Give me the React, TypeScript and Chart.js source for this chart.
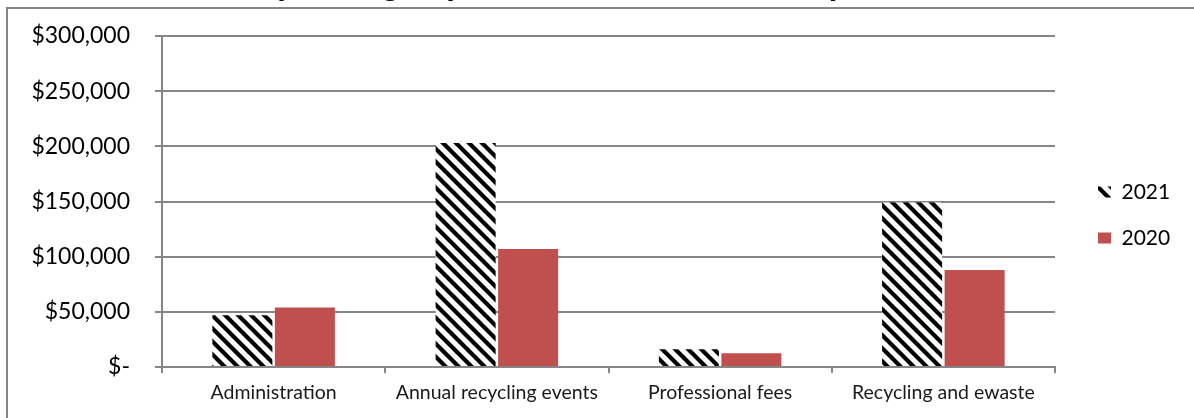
import React, { useEffect, useRef } from 'react';
import { Chart, registerables } from 'chart.js';

Chart.register(...registerables);

const TITLE = 'Operating Expenses 2021 vs 2020 Comparison';
const categories = ['Administration', 'Annual recycling events', 'Professional fees', 'Recycling and ewaste'];
const seriesLabels = ['2021', '2020'];
const values2021 = [47000, 203000, 16000, 149000];
const values2020 = [54000, 107000, 12500, 88000];
const yTickValues = [0, 50000, 100000, 150000, 200000, 250000, 300000];

const GRID = '#868686';
const RED = '#C0504D';
const TOP_OFFSET = 40;

function makeHatch(target: CanvasRenderingContext2D) {
  const size = 13;
  const c = document.createElement('canvas');
  c.width = size;
  c.height = size;
  const g = c.getContext('2d')!;
  g.fillStyle = '#ffffff';
  g.fillRect(0, 0, size, size);
  g.strokeStyle = '#000000';
  g.lineWidth = 4.2;
  g.beginPath();
  for (const o of [-size, 0, size]) {
    g.moveTo(o - 2, -2);
    g.lineTo(o + size + 2, size + 2);
  }
  g.stroke();
  return target.createPattern(c, 'repeat');
}

export default function App() {
  const ref = useRef<HTMLCanvasElement>(null);

  useEffect(() => {
    const canvas = ref.current!;
    const ctx = canvas.getContext('2d')!;
    const hatch = makeHatch(ctx);

    const layoutPlugin = {
      id: 'layoutFix',
      beforeInit(chart: any) {
        const lg = chart.legend;
        if (lg) {
          const orig = lg.fit.bind(lg);
          lg.fit = function () {
            orig();
            this.width = 139;
          };
        }
      },
      afterLayout(chart: any) {
        const lg = chart.legend;
        if (!lg) return;
        const dx = 1098 - 25 - lg.left;
        lg.left += dx;
        lg.right += dx;
        const dy = 181.5 + TOP_OFFSET - 25 - lg.top;
        lg.top += dy;
        lg.bottom += dy;
      },
      beforeDraw(chart: any) {
        const c = chart.ctx;
        c.save();
        c.strokeStyle = GRID;
        c.lineWidth = 2;
        c.beginPath();
        c.moveTo(7, 2000);
        c.lineTo(7, 8 + TOP_OFFSET);
        c.lineTo(2000, 8 + TOP_OFFSET);
        c.stroke();
        c.restore();
      },
    };

    const chart = new Chart(canvas, {
      type: 'bar',
      data: {
        labels: categories,
        datasets: [
          {
            label: seriesLabels[0],
            data: values2021,
            backgroundColor: hatch as any,
            borderWidth: 0,
            categoryPercentage: 0.56,
            barPercentage: 0.96,
          },
          {
            label: seriesLabels[1],
            data: values2020,
            backgroundColor: RED,
            borderWidth: 0,
            categoryPercentage: 0.56,
            barPercentage: 0.96,
          },
        ],
      },
      options: {
        responsive: false,
        animation: false,
        devicePixelRatio: 1,
        layout: { padding: 0 },
        plugins: {
          title: {
            display: true,
            text: TITLE,
            color: '#000',
            font: { family: '"Liberation Sans", Arial, sans-serif', size: 31, weight: 'bold' },
            padding: { top: 6.7, bottom: 32.1 },
          },
          legend: {
            position: 'right',
            align: 'start',
            labels: {
              boxWidth: 13,
              boxHeight: 11,
              padding: 25,
              color: '#000',
              font: { family: 'Lato', size: 21 },
            },
          },
          tooltip: { enabled: false },
        },
        scales: {
          x: {
            offset: true,
            afterFit: (s: any) => {
              s.height = 51;
            },
            grid: {
              offset: true,
              drawOnChartArea: false,
              drawTicks: true,
              tickLength: 6,
              color: GRID,
              lineWidth: 2,
            },
            border: { display: true, color: GRID, width: 2 },
            ticks: {
              padding: 8,
              color: '#1a1a1a',
              font: { family: 'Lato', size: 19.5 },
              maxRotation: 0,
              autoSkip: false,
            },
          },
          y: {
            min: 0,
            max: 300000,
            afterBuildTicks: (s: any) => {
              s.ticks = yTickValues.map((v) => ({ value: v }));
            },
            afterFit: (s: any) => {
              s.width = 162;
            },
            grid: { color: GRID, lineWidth: 2, tickLength: 7, drawTicks: true },
            border: { display: true, color: GRID, width: 2 },
            ticks: {
              padding: 25,
              color: '#000',
              font: { family: 'Lato', size: 23 },
              callback: (v: any) => (Number(v) === 0 ? '$-' : '$' + Number(v).toLocaleString('en-US')),
            },
          },
        },
      },
      plugins: [layoutPlugin],
    });

    return () => chart.destroy();
  }, []);

  return (
    <canvas
      ref={ref}
      width={1194}
      height={418 + TOP_OFFSET}
      style={{ position: 'fixed', left: 0, top: -TOP_OFFSET, width: 1194, height: 418 + TOP_OFFSET, display: 'block' }}
    />
  );
}
